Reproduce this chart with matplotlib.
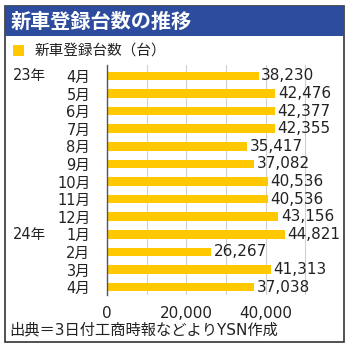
import matplotlib
matplotlib.use("Agg")
import matplotlib.pyplot as plt
from matplotlib.patches import Rectangle
from matplotlib.transforms import blended_transform_factory

plt.rcParams['font.family'] = ['DejaVu Sans', 'Noto Sans CJK JP']

# Data
months = ["4月", "5月", "6月", "7月", "8月", "9月", "10月", "11月", "12月",
          "1月", "2月", "3月", "4月"]
years = {0: "23年", 9: "24年"}
values = [38230, 42476, 42377, 42355, 35417, 37082, 40536, 40536, 43156,
          44821, 26267, 41313, 37038]
xticks = [0, 20000, 40000]

W, H = 350, 349
fig = plt.figure(figsize=(W / 100, H / 100), dpi=100)

def fx(px):
    return px / W

def fy(py):
    return 1 - py / H

txt = "#222222"

# Outer frame and title band
fig.patches.append(Rectangle((fx(5), fy(342)), fx(344) - fx(5), fy(6) - fy(342),
                             transform=fig.transFigure, fill=False,
                             edgecolor="#333333", linewidth=1.2))
fig.patches.append(Rectangle((fx(5), fy(36)), fx(344) - fx(5), fy(6) - fy(36),
                             transform=fig.transFigure, facecolor="#2d4c9e",
                             edgecolor="#2d4c9e", linewidth=0))
fig.text(fx(11), fy(21.5), "新車登録台数の推移", color="white", fontsize=14.5,
         fontweight="bold", va="center", ha="left",
         family=['Noto Sans CJK JP'])

# Legend
fig.patches.append(Rectangle((fx(13), fy(56)), fx(11), fy(0) - fy(11),
                             transform=fig.transFigure, facecolor="#ffc800",
                             edgecolor="none"))
fig.text(fx(35), fy(51), "新車登録台数（台）", fontsize=10.5, va="center",
         ha="left", color=txt, family=['Noto Sans CJK JP'])

# Axes
ax = fig.add_axes([fx(107), fy(295), fx(325) - fx(107), fy(65) - fy(295)])
ypos = list(range(len(values)))
ax.barh(ypos, values, height=0.48, color="#ffc800", zorder=2)
ax.set_xlim(0, 55000)
ax.set_ylim(12.45, -0.62)

for y, v in zip(ypos, values):
    ax.text(v + 700, y, f"{v:,}", va="center", ha="left", fontsize=11,
            color=txt)

ax.set_yticks(ypos)
ax.set_yticklabels(months, fontsize=10.5, color=txt)
ax.tick_params(axis="y", length=0, pad=12)
tr = blended_transform_factory(fig.transFigure, ax.transData)
for i, yr in years.items():
    ax.text(fx(13), i, yr, transform=tr, va="center", ha="left",
            fontsize=10.5, color=txt)

ax.set_xticks(xticks)
ax.set_xticklabels([f"{t:,}" for t in xticks], fontsize=11, color=txt)
ax.set_xticks(range(10000, 60000, 10000), minor=True)
ax.tick_params(axis="x", which="both", length=0, pad=8)
ax.grid(axis="x", which="both", color="#d0d0d0", linewidth=0.8, zorder=0)

for s in ["top", "right", "bottom"]:
    ax.spines[s].set_visible(False)
ax.spines["left"].set_color("#555555")
ax.spines["left"].set_linewidth(1.0)
ax.spines["left"].set_zorder(3)

fig.text(fx(9), fy(330), "出典＝3日付工商時報などよりYSN作成", fontsize=11,
         va="center", ha="left", color=txt)

fig.savefig("out.png", dpi=100)
